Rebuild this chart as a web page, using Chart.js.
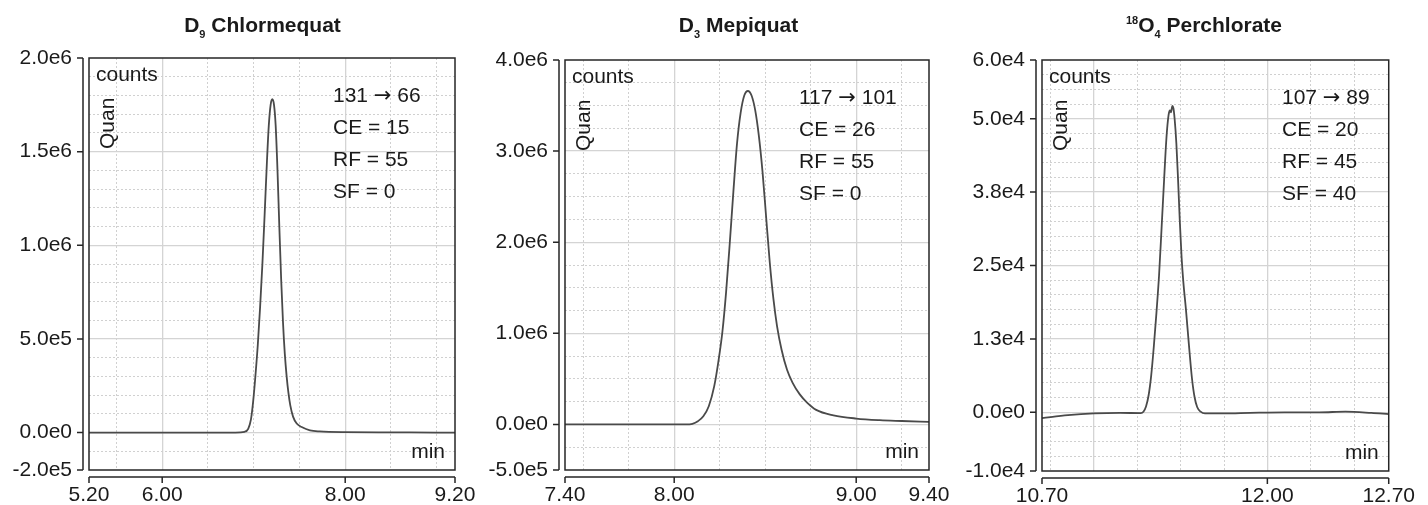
<!DOCTYPE html>
<html>
<head>
<meta charset="utf-8">
<script src="https://cdn.jsdelivr.net/npm/chart.js@4.4.1/dist/chart.umd.min.js"></script>
<style>
    body { margin: 0; background: #fff; }
    #wrap { position: relative; width: 1428px; height: 505px; }
    #wrap canvas { position: absolute; left: 0; top: 0; }
</style>
</head>
<body>
<div id="wrap">
    <canvas id="plot1" width="1428" height="505"></canvas>
    <canvas id="plot2" width="1428" height="505"></canvas>
    <canvas id="plot3" width="1428" height="505"></canvas>
</div>
<script>
// D9 Chlormequat (min / counts)
const tempo1 = [5.20, 5.60, 6.00, 6.40, 6.80, 6.90, 6.94, 6.97, 6.995, 7.02, 7.045, 7.07, 7.095, 7.12, 7.145, 7.165, 7.185, 7.203,
                7.222, 7.24, 7.26, 7.28, 7.30, 7.32, 7.34, 7.36, 7.38, 7.40, 7.43, 7.47, 7.53, 7.615, 7.72, 8.00, 8.50, 9.00, 9.20];
const sinal1 = [0, 0, 0, 0, 0, 4e3, 2e4, 7e4, 1.7e5, 3.1e5, 4.7e5, 6.7e5, 9.0e5, 1.17e6, 1.45e6, 1.64e6, 1.75e6, 1.78e6,
                1.75e6, 1.64e6, 1.40e6, 1.10e6, 8.2e5, 5.9e5, 4.2e5, 3.0e5, 2.1e5, 1.45e5, 8.5e4, 4.8e4, 2.8e4, 1.2e4, 6e3, 2e3, 1e3, 0, 0];
const xTicks1 = [5.2, 6, 8, 9.2];
const xText1 = ['5.20', '6.00', '8.00', '9.20'];
const xSolid1 = [6, 8];
const yTicks1 = [-2e5, 0, 5e5, 1e6, 1.5e6, 2e6];
const yText1 = ['-2.0e5', '0.0e0', '5.0e5', '1.0e6', '1.5e6', '2.0e6'];
const titulo1 = [['D', 'n'], ['9', 'sub'], [' Chlormequat', 'n']];
const notas1 = ['131 \u2192 66', 'CE = 15', 'RF = 55', 'SF = 0'];

// D3 Mepiquat
const tempo2 = [7.40, 7.70, 8.00, 8.06, 8.08, 8.10, 8.13, 8.16, 8.19, 8.22, 8.245, 8.265, 8.285, 8.305, 8.325, 8.345, 8.365, 8.385, 8.405,
                8.425, 8.445, 8.465, 8.485, 8.505, 8.525, 8.545, 8.565, 8.59, 8.62, 8.65, 8.69, 8.73, 8.78, 8.875, 9.00, 9.13, 9.25, 9.40];
const sinal2 = [0, 0, 0, 0, 1e3, 6e3, 3.5e4, 9e4, 2.0e5, 4.2e5, 7.2e5, 1.02e6, 1.45e6, 1.98e6, 2.55e6, 3.08e6, 3.42e6, 3.61e6, 3.66e6,
                3.61e6, 3.45e6, 3.17e6, 2.78e6, 2.28e6, 1.78e6, 1.38e6, 1.08e6, 8.2e5, 6.0e5, 4.6e5, 3.3e5, 2.4e5, 1.6e5, 1.0e5, 6.5e4, 4.7e4, 3.8e4, 2.8e4];
const xTicks2 = [7.4, 8, 9, 9.4];
const xText2 = ['7.40', '8.00', '9.00', '9.40'];
const xSolid2 = [8, 9];
const yTicks2 = [-5e5, 0, 1e6, 2e6, 3e6, 4e6];
const yText2 = ['-5.0e5', '0.0e0', '1.0e6', '2.0e6', '3.0e6', '4.0e6'];
const titulo2 = [['D', 'n'], ['3', 'sub'], [' Mepiquat', 'n']];
const notas2 = ['117 \u2192 101', 'CE = 26', 'RF = 55', 'SF = 0'];

// 18O4 Perchlorate
const tempo3 = [10.70, 10.85, 11.00, 11.15, 11.27, 11.285, 11.30, 11.315, 11.33, 11.345, 11.36, 11.375, 11.39, 11.405, 11.418, 11.43,
                11.438, 11.444, 11.452, 11.458, 11.465, 11.475, 11.485, 11.495, 11.505, 11.515, 11.53, 11.548, 11.565, 11.58, 11.595,
                11.615, 11.64, 11.75, 11.90, 12.10, 12.30, 12.45, 12.60, 12.70];
const sinal3 = [-1000, -500, -200, -100, -150, 100, 1000, 2900, 6300, 11200, 16900, 23200, 31500, 40000, 46800, 50600,
                51400, 51100, 52200, 51800, 50000, 45800, 39500, 32500, 26500, 22300, 17600, 11300, 5800, 2600, 900,
                100, -200, -200, -100, 0, 0, 100, -100, -300];
const xTicks3 = [10.7, 12, 12.7];
const xText3 = ['10.70', '12.00', '12.70'];
const xSolid3 = [11, 12];
const yTicks3 = [-1e4, 0, 1.25e4, 2.5e4, 3.75e4, 5e4, 6e4];
const yText3 = ['-1.0e4', '0.0e0', '1.3e4', '2.5e4', '3.8e4', '5.0e4', '6.0e4'];
const titulo3 = [['18', 'sup'], ['O', 'n'], ['4', 'sub'], [' Perchlorate', 'n']];
const notas3 = ['107 \u2192 89', 'CE = 20', 'RF = 45', 'SF = 40'];

const FONTE = '"Liberation Sans", Arial, Helvetica, sans-serif';
const FONTE_SETA = '"DejaVu Sans", sans-serif'; // arrow glyph is larger there
const TAM = 21;
const LARG_Y = 80; // room for the y tick labels

// box = [left, top, right, bottom] of the framed plot area
const paineis = {
    plot1: { t: tempo1, c: sinal1, xMin: 5.2, xMax: 9.2, xStep: 0.5, xTicks: xTicks1, xText: xText1, xSolid: xSolid1,
             yMin: -2e5, yMax: 2e6, yStep: 1e5, yTicks: yTicks1, yText: yText1, titulo: titulo1, notas: notas1,
             box: [89, 58, 455, 470], notaX: 244, tituloX: 262.5 },
    plot2: { t: tempo2, c: sinal2, xMin: 7.4, xMax: 9.4, xStep: 0.25, xTicks: xTicks2, xText: xText2, xSolid: xSolid2,
             yMin: -5e5, yMax: 4e6, yStep: 2.5e5, yTicks: yTicks2, yText: yText2, titulo: titulo2, notas: notas2,
             box: [565, 60, 929, 470], notaX: 234, tituloX: 738.5 },
    plot3: { t: tempo3, c: sinal3, xMin: 10.7, xMax: 12.7, xStep: 0.25, xTicks: xTicks3, xText: xText3, xSolid: xSolid3,
             yMin: -1e4, yMax: 6e4, yStep: 2500, yTicks: yTicks3, yText: yText3, titulo: titulo3, notas: notas3,
             box: [1042, 60, 1402, 471], notaX: 240, tituloX: 1204 }
};

function perto(lista, v) {
    return lista.some(u => Math.abs(u - v) <= 1e-6 * Math.max(1, Math.abs(u)));
}

// grid positions: every step inside the range, plus the ends and labelled ticks
function valoresGrade(min, max, step, extra) {
    const out = [min, max];
    let v = Math.ceil(min / step - 1e-9) * step;
    while (v <= max + 1e-9) {
        const r = +v.toPrecision(10);
        if (!perto(out, r)) out.push(r);
        v += step;
    }
    extra.forEach(e => { if (!perto(out, e)) out.push(e); });
    return out.sort((a, b) => a - b);
}

function rotulo(vals, textos, v) {
    const i = vals.findIndex(u => perto([u], v));
    return i >= 0 ? textos[i] : '';
}

function corGrade(solid, v, min, max) {
    if (perto([min, max], v)) return 'rgba(0,0,0,0)';
    return perto(solid, v) ? '#d4d4d4' : '#d0d0d0';
}

// writes a note, the arrow with another font
function escreveNota(ctx, s, x, y) {
    const partes = s.split('\u2192');
    partes.forEach((txt, i) => {
        ctx.font = TAM + 'px ' + FONTE;
        ctx.fillText(txt, x, y);
        x += ctx.measureText(txt).width;
        if (i < partes.length - 1) {
            ctx.font = TAM + 'px ' + FONTE_SETA;
            ctx.fillText('\u2192', x, y);
            x += ctx.measureText('\u2192').width;
        }
    });
}

const decor = {
    id: 'decor',
    afterDraw(chart) {
        const p = paineis[chart.canvas.id];
        const ctx = chart.ctx;
        const a = chart.chartArea;
        const xs = chart.scales.x, ys = chart.scales.y;
        ctx.save();

        // frame around the plot
        ctx.strokeStyle = '#262626';
        ctx.lineWidth = 1.5;
        ctx.strokeRect(a.left, a.top, a.right - a.left, a.bottom - a.top);

        // y axis set off to the left, x axis set off below
        const ax = a.left - 6;
        const ay = a.bottom + 7;
        ctx.beginPath();
        ctx.moveTo(ax, a.top);
        ctx.lineTo(ax, a.bottom);
        p.yTicks.forEach(v => {
            const py = ys.getPixelForValue(v);
            ctx.moveTo(ax - 6, py);
            ctx.lineTo(ax, py);
        });
        ctx.moveTo(a.left, ay);
        ctx.lineTo(a.right, ay);
        p.xTicks.forEach(v => {
            const px = xs.getPixelForValue(v);
            ctx.moveTo(px, ay);
            ctx.lineTo(px, ay + 6);
        });
        ctx.stroke();

        // texts inside the plot
        ctx.fillStyle = '#1a1a1a';
        ctx.font = TAM + 'px ' + FONTE;
        ctx.textBaseline = 'alphabetic';
        ctx.textAlign = 'left';
        ctx.fillText('counts', a.left + 7, a.top + 23);
        p.notas.forEach((s, i) => escreveNota(ctx, s, a.left + p.notaX, a.top + 44 + i * 32));
        ctx.font = TAM + 'px ' + FONTE;
        ctx.textAlign = 'right';
        ctx.fillText('min', a.right - 10, a.bottom - 12);
        ctx.save();
        ctx.translate(a.left + 25, a.top + 91);
        ctx.rotate(-Math.PI / 2);
        ctx.textAlign = 'left';
        ctx.fillText('Quan', 0, 0);
        ctx.restore();

        // title with sub/superscripts
        ctx.textAlign = 'left';
        const fonteDe = k => (k === 'n' ? 'bold 21px ' : 'bold 11px ') + FONTE;
        let total = 0;
        p.titulo.forEach(([s, k]) => { ctx.font = fonteDe(k); total += ctx.measureText(s).width; });
        let x = p.tituloX - total / 2;
        p.titulo.forEach(([s, k]) => {
            ctx.font = fonteDe(k);
            const dy = k === 'sub' ? 6 : (k === 'sup' ? -8 : 0);
            ctx.fillText(s, x, 32 + dy);
            x += ctx.measureText(s).width;
        });
        ctx.restore();
    }
};

function criaGrafico(id) {
    const p = paineis[id];
    const b = p.box;
    const xGrade = valoresGrade(p.xMin, p.xMax, p.xStep, p.xTicks.concat(p.xSolid));
    const yGrade = valoresGrade(p.yMin, p.yMax, p.yStep, p.yTicks);
    const ySolid = p.yTicks;

    new Chart(document.getElementById(id), {
        type: 'line',
        data: {
            datasets: [{
                data: p.t.map((x, i) => ({ x: x, y: p.c[i] })),
                borderColor: '#4a4a4a',
                borderWidth: 1.8,
                pointRadius: 0,
                cubicInterpolationMode: 'monotone',
                fill: false
            }]
        },
        options: {
            responsive: false,
            animation: false,
            events: [],
            layout: { padding: { left: b[0] - LARG_Y, right: 1428 - b[2], top: b[1], bottom: 0 } },
            plugins: { legend: { display: false }, tooltip: { enabled: false }, title: { display: false } },
            scales: {
                x: {
                    type: 'linear',
                    min: p.xMin,
                    max: p.xMax,
                    afterBuildTicks: s => { s.ticks = xGrade.map(v => ({ value: v })); },
                    afterFit: s => { s.height = 505 - b[3]; },
                    ticks: {
                        autoSkip: false,
                        maxRotation: 0,
                        padding: 13,
                        color: '#1a1a1a',
                        font: { family: FONTE, size: TAM },
                        callback: v => rotulo(p.xTicks, p.xText, v)
                    },
                    grid: {
                        drawTicks: false,
                        color: c => corGrade(p.xSolid, c.tick ? c.tick.value : p.xMin, p.xMin, p.xMax),
                        lineWidth: c => (c.tick && perto(p.xSolid, c.tick.value)) ? 1.3 : 1
                    },
                    border: {
                        display: false,
                        dash: c => (c.tick && !perto(p.xSolid, c.tick.value)) ? [2, 2] : []
                    }
                },
                y: {
                    type: 'linear',
                    min: p.yMin,
                    max: p.yMax,
                    afterBuildTicks: s => { s.ticks = yGrade.map(v => ({ value: v })); },
                    afterFit: s => { s.width = LARG_Y; },
                    ticks: {
                        autoSkip: false,
                        padding: 17,
                        color: '#1a1a1a',
                        font: { family: FONTE, size: TAM },
                        callback: v => rotulo(p.yTicks, p.yText, v)
                    },
                    grid: {
                        drawTicks: false,
                        color: c => corGrade(ySolid, c.tick ? c.tick.value : p.yMin, p.yMin, p.yMax),
                        lineWidth: c => (c.tick && perto(ySolid, c.tick.value)) ? 1.3 : 1
                    },
                    border: {
                        display: false,
                        dash: c => (c.tick && !perto(ySolid, c.tick.value)) ? [2, 2] : []
                    }
                }
            }
        },
        plugins: [decor]
    });
}

criaGrafico('plot1');
criaGrafico('plot2');
criaGrafico('plot3');
</script>
</body>
</html>
